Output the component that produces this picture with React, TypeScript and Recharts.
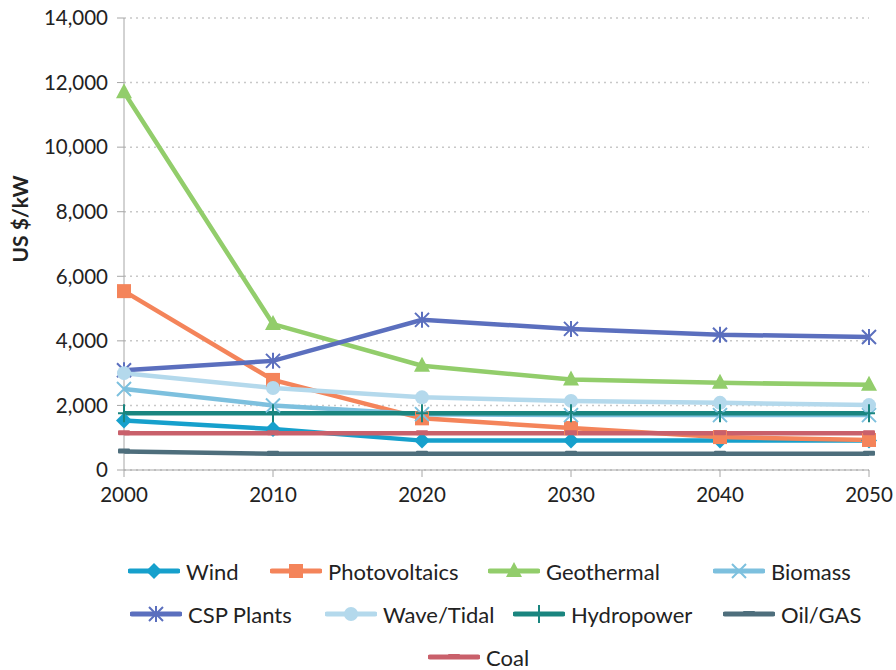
import { LineChart, Line, XAxis, YAxis, CartesianGrid, Legend } from "recharts";

const years = [2000, 2010, 2020, 2030, 2040, 2050];
const yTicks = [0, 2000, 4000, 6000, 8000, 10000, 12000, 14000];

const wind = [1530, 1270, 910, 910, 910, 910];
const photovoltaics = [5540, 2790, 1600, 1300, 1020, 930];
const geothermal = [11700, 4520, 3230, 2800, 2700, 2640];
const biomass = [2510, 2000, 1730, 1700, 1700, 1700];
const cspPlants = [3090, 3380, 4650, 4370, 4190, 4120];
const waveTidal = [3000, 2540, 2250, 2140, 2080, 2010];
const hydropower = [1760, 1760, 1760, 1760, 1760, 1760];
const oilGas = [570, 500, 500, 500, 500, 500];
const coal = [1140, 1140, 1140, 1140, 1140, 1140];

type Shape = "diamond" | "square" | "triangle" | "x" | "asterisk" | "circle" | "plus" | "dash";

const SERIES: { key: string; name: string; color: string; shape: Shape; values: number[] }[] = [
  { key: "wind", name: "Wind", color: "#16a0cc", shape: "diamond", values: wind },
  { key: "pv", name: "Photovoltaics", color: "#f4845a", shape: "square", values: photovoltaics },
  { key: "geo", name: "Geothermal", color: "#92cd6b", shape: "triangle", values: geothermal },
  { key: "bio", name: "Biomass", color: "#7dc0de", shape: "x", values: biomass },
  { key: "csp", name: "CSP Plants", color: "#5b6fbe", shape: "asterisk", values: cspPlants },
  { key: "wave", name: "Wave/Tidal", color: "#b4d9ec", shape: "circle", values: waveTidal },
  { key: "hydro", name: "Hydropower", color: "#1a857f", shape: "plus", values: hydropower },
  { key: "oil", name: "Oil/GAS", color: "#4e6e7c", shape: "dash", values: oilGas },
  { key: "coal", name: "Coal", color: "#c9606b", shape: "dash", values: coal },
];

// legend item left edges, row by row (Excel-style wrapped legend)
const LEGEND_X = [128, 270, 488, 713, 130, 325, 513, 723, 428];

const data = years.map((year, i) => {
  const row: Record<string, number> = { year };
  SERIES.forEach((s) => (row[s.key] = s.values[i]));
  return row;
});

const FONT = "Lato, 'Noto Sans', sans-serif";

function Marker({ cx, cy, color, shape }: { cx: number; cy: number; color: string; shape: Shape }) {
  switch (shape) {
    case "diamond":
      return <path d={`M${cx},${cy - 8}L${cx + 8},${cy}L${cx},${cy + 8}L${cx - 8},${cy}Z`} fill={color} />;
    case "square":
      return <rect x={cx - 7} y={cy - 7} width={14} height={14} fill={color} />;
    case "triangle":
      return <path d={`M${cx},${cy - 9}L${cx + 8},${cy + 6}L${cx - 8},${cy + 6}Z`} fill={color} />;
    case "circle":
      return <circle cx={cx} cy={cy} r={7} fill={color} />;
    case "x":
      return (
        <path
          d={`M${cx - 7},${cy - 7}L${cx + 7},${cy + 7}M${cx + 7},${cy - 7}L${cx - 7},${cy + 7}`}
          stroke={color}
          strokeWidth={2}
        />
      );
    case "asterisk":
      return (
        <path
          d={`M${cx - 7},${cy - 7}L${cx + 7},${cy + 7}M${cx + 7},${cy - 7}L${cx - 7},${cy + 7}M${cx},${cy - 8}L${cx},${cy + 8}`}
          stroke={color}
          strokeWidth={2}
        />
      );
    case "plus":
      return (
        <path d={`M${cx},${cy - 9}L${cx},${cy + 9}M${cx - 6},${cy}L${cx + 6},${cy}`} stroke={color} strokeWidth={2} />
      );
    case "dash":
      return <rect x={cx - 6} y={cy - 3} width={12} height={5} rx={1} fill={color} />;
  }
  return null;
}

function LegendBox() {
  return (
    <div style={{ position: "relative", width: 896, height: 130, fontFamily: FONT, fontSize: 22, color: "#222" }}>
      {SERIES.map((s, i) => (
        <div
          key={s.key}
          style={{
            position: "absolute",
            left: LEGEND_X[i],
            top: 21 + Math.floor(i / 4) * 43,
            height: 20,
            display: "flex",
            alignItems: "center",
            whiteSpace: "nowrap",
          }}
        >
          <svg width={52} height={20} style={{ marginRight: 6 }}>
            <line x1={2} y1={10} x2={50} y2={10} stroke={s.color} strokeWidth={5} strokeLinecap="round" />
            <Marker cx={26} cy={10} color={s.color} shape={s.shape} />
          </svg>
          <span>{s.name}</span>
        </div>
      ))}
    </div>
  );
}

export default function App() {
  return (
    <div style={{ width: 896, height: 670, background: "#fff" }}>
      <style>{`body{margin:0}`}</style>
      <LineChart width={896} height={670} data={data} margin={{ top: 18, right: 27, left: 0, bottom: 0 }}>
        <CartesianGrid vertical={false} stroke="#c8c8c8" strokeDasharray="2 4" strokeWidth={1.5} />
        <XAxis
          dataKey="year"
          type="number"
          domain={[2000, 2050]}
          ticks={years}
          height={70}
          stroke="#a6a6a6"
          tickSize={7}
          tickMargin={10}
          tick={{ fontSize: 20.5, fontFamily: FONT, fill: "#222" }}
        />
        <YAxis
          domain={[0, 14000]}
          ticks={yTicks}
          width={124}
          stroke="#a6a6a6"
          tickSize={7}
          tickMargin={9}
          tick={{ fontSize: 20.5, fontFamily: FONT, fill: "#222" }}
          tickFormatter={(v: number) => v.toLocaleString("en-US")}
          label={{
            content: () => (
              <text
                x={19}
                y={219}
                transform="rotate(-90, 19, 219)"
                textAnchor="middle"
                dominantBaseline="central"
                fontFamily={FONT}
                fontWeight="bold"
                fontSize={21}
                fill="#222"
              >
                US $/kW
              </text>
            ),
          }}
        />
        <Legend
          verticalAlign="bottom"
          wrapperStyle={{ height: 130, width: 896, left: 0 }}
          content={() => <LegendBox />}
        />
        {SERIES.map((s) => (
          <Line
            key={s.key}
            dataKey={s.key}
            name={s.name}
            stroke={s.color}
            strokeWidth={4.5}
            isAnimationActive={false}
            dot={(p: any) => <Marker key={`${s.key}-${p.index}`} cx={p.cx} cy={p.cy} color={s.color} shape={s.shape} />}
          />
        ))}
      </LineChart>
    </div>
  );
}
